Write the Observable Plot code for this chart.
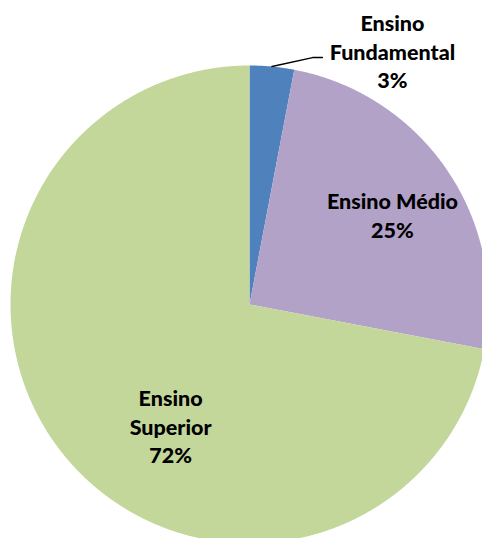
<!DOCTYPE html>
<html>
<head>
<meta charset="utf-8">
<script src="https://cdn.jsdelivr.net/npm/d3@7"></script>
<script src="https://cdn.jsdelivr.net/npm/@observablehq/plot@0.6"></script>
<style>
  html, body { margin: 0; padding: 0; background: #fff; }
  #chart svg { display: block; }
</style>
</head>
<body>
<div id="chart"></div>
<script>
// ---- data ----
const categories = ["Ensino Fundamental", "Ensino Médio", "Ensino Superior"];
const values = [3, 25, 72];
const labels = ["Ensino\nFundamental\n3%", "Ensino Médio\n25%", "Ensino\nSuperior\n72%"];
const colors = ["#4F81BD", "#B3A2C8", "#C4D79B"];

// ---- layout (unit circle coordinates for label anchors) ----
const labelAnchor = [[0.598, 1.063], [0.598, 0.377], [-0.33, -0.506]];

const arcs = d3.pie().sort(null).value(d => d)(values);

// slice polygons derived from pie angles
const slicePts = [];
arcs.forEach((a, i) => {
  slicePts.push({cat: categories[i], x: 0, y: 0});
  const n = Math.max(2, Math.ceil((a.endAngle - a.startAngle) / 0.005));
  for (let k = 0; k <= n; k++) {
    const t = a.startAngle + (a.endAngle - a.startAngle) * k / n;
    slicePts.push({cat: categories[i], x: Math.sin(t), y: Math.cos(t)});
  }
  slicePts.push({cat: categories[i], x: 0, y: 0});
});

const labelData = labels.map((l, i) => ({text: l, x: labelAnchor[i][0], y: labelAnchor[i][1]}));

// leader line for the small slice
const a0 = arcs[0];
const mid0 = (a0.startAngle + a0.endAngle) / 2;
const leader = [
  {x: Math.sin(mid0), y: Math.cos(mid0)},
  {x: 0.264, y: 1.033},
  {x: 0.305, y: 1.033}
];

const chart = Plot.plot({
  width: 482,
  height: 538,
  margin: 0,
  x: {domain: [-1, 1], range: [10, 488], axis: null},
  y: {domain: [-1, 1], range: [543, 65], axis: null},
  color: {domain: categories, range: colors},
  style: {background: "#fff"},
  marks: [
    Plot.line(slicePts, {x: "x", y: "y", z: "cat", fill: "cat", stroke: "none", curve: "linear-closed"}),
    Plot.line(leader, {x: "x", y: "y", stroke: "#000", strokeWidth: 1.5}),
    Plot.text(labelData, {x: "x", y: "y", text: "text", fontFamily: "Lato", fontWeight: 900, fontSize: 21.5, lineHeight: 1.33, fill: "#000"})
  ]
});
document.getElementById("chart").appendChild(chart);
</script>
</body>
</html>
